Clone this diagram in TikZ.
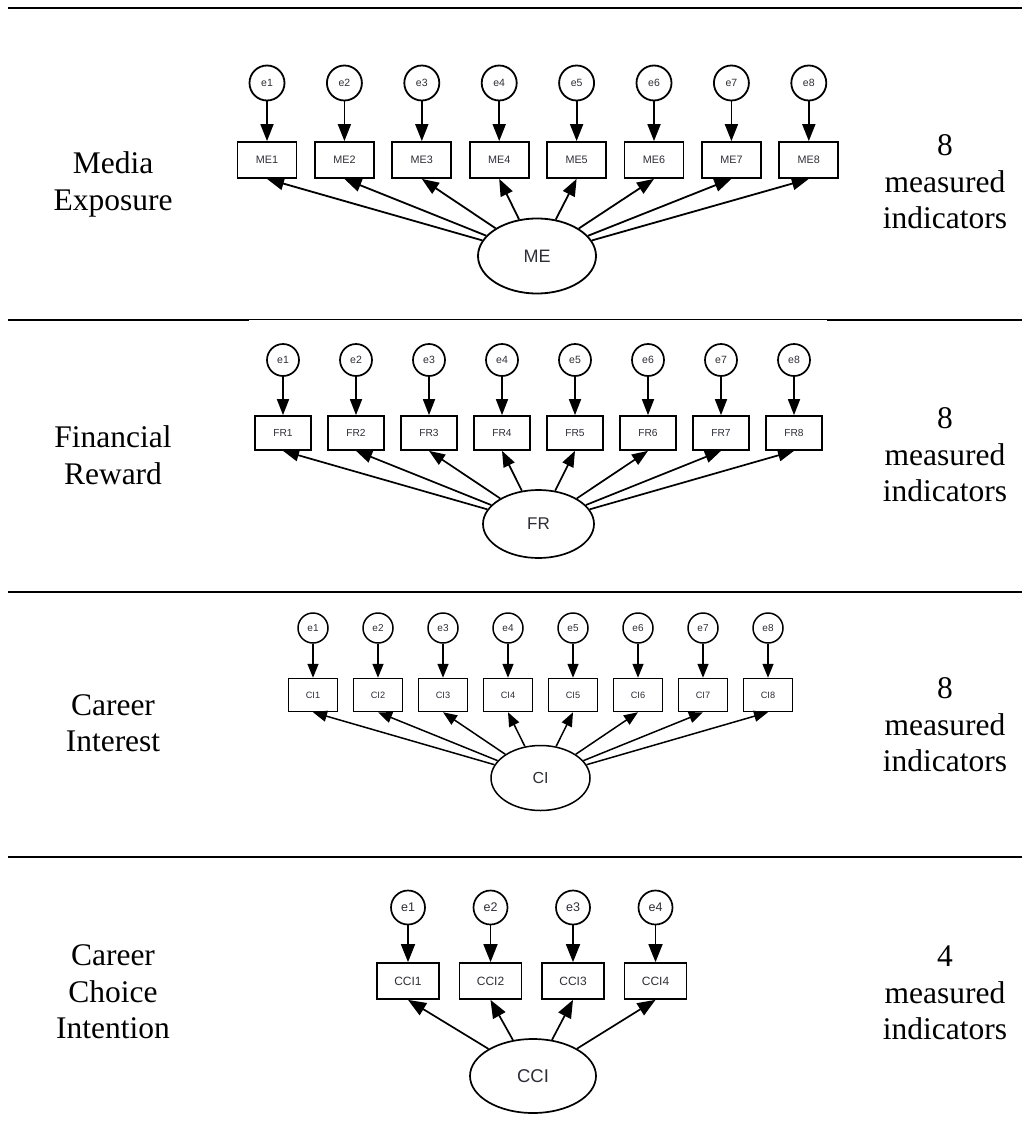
\documentclass[tikz,border=0pt]{standalone}
\usepackage{fontspec}
\setmainfont{Liberation Serif}
\setsansfont{Liberation Sans}
\usetikzlibrary{shapes.geometric,arrows.meta}

\definecolor{labelgray}{RGB}{45,45,55}

\tikzset{
  rule/.style={line width=2.2pt},
  errnode/.style={circle, draw, inner sep=0pt, text=labelgray},
  obsnode/.style={rectangle, draw, inner sep=0pt, text=labelgray},
  latnode/.style={ellipse, draw, inner sep=0pt, text=labelgray},
  side/.style={align=center, font=\rmfamily\fontsize{31.5}{36.5}\selectfont},
  fs/.style={font=\sffamily\fontsize{#1}{#1}\selectfont},
}

\begin{document}
\begin{tikzpicture}[x=1pt,y=-1pt]
\useasboundingbox (0,0) rectangle (1022,1124);

% section rules
\draw[rule] (8,8) -- (1022,8);
\draw[rule] (8,320) -- (249,320);
\draw[line width=1.4pt] (249,319.5) -- (827,319.5);
\draw[rule] (827,320) -- (1022,320);
\draw[rule] (8,592) -- (1022,592);
\draw[rule] (8,857) -- (1022,857);

% ---------------- Media Exposure ----------------
\node[side] (lab-ME) at (113,184.5) {Media\\Exposure};
\node[side] (cnt-ME) at (945,182) {8\\measured\\indicators};
\begin{scope}[line width=1.8pt, arr/.style={-{Triangle[length=17pt,width=13pt]}}]
\node[latnode, minimum width=118pt, minimum height=75pt, fs=18] (ME) at (537,256) {ME};
\foreach \i in {1,...,8} {
  \pgfmathsetmacro\xx{267+77.4*(\i-1)}
  \node[errnode, minimum size=35pt, fs=10.5] (ME-e\i) at (\xx,83) {e\i};
  \node[obsnode, minimum width=59pt, minimum height=36pt, fs=10.8] (ME\i) at (\xx,160) {ME\i};
  \draw[arr] (ME-e\i) -- (ME\i);
  \draw[arr] (ME) -- (ME\i.south);
}
\end{scope}

% ---------------- Financial Reward ----------------
\node[side] (lab-FR) at (113,455) {Financial\\Reward};
\node[side] (cnt-FR) at (945,455) {8\\measured\\indicators};
\begin{scope}[line width=1.7pt, arr/.style={-{Triangle[length=16pt,width=12pt]}}]
\node[latnode, minimum width=111pt, minimum height=68pt, fs=17] (FR) at (538.5,524) {FR};
\foreach \i in {1,...,8} {
  \pgfmathsetmacro\xx{283+73*(\i-1)}
  \node[errnode, minimum size=32pt, fs=10.5] (FR-e\i) at (\xx,360) {e\i};
  \node[obsnode, minimum width=56pt, minimum height=34pt, fs=10.2] (FR\i) at (\xx,433) {FR\i};
  \draw[arr] (FR-e\i) -- (FR\i);
  \draw[arr] (FR) -- (FR\i.south);
}
\end{scope}

% ---------------- Career Interest ----------------
\node[side] (lab-CI) at (113,723) {Career\\Interest};
\node[side] (cnt-CI) at (945,725) {8\\measured\\indicators};
\begin{scope}[line width=1.5pt, arr/.style={-{Triangle[length=14pt,width=11pt]}}]
\node[latnode, minimum width=99pt, minimum height=65pt, fs=16] (CI) at (540.5,778) {CI};
\foreach \i in {1,...,8} {
  \pgfmathsetmacro\xx{313+65*(\i-1)}
  \node[errnode, minimum size=30pt, fs=10] (CI-e\i) at (\xx,628) {e\i};
  \node[obsnode, minimum width=49pt, minimum height=33pt, fs=9.2] (CI\i) at (\xx,695) {CI\i};
  \draw[arr] (CI-e\i) -- (CI\i);
  \draw[arr] (CI) -- (CI\i.south);
}
\end{scope}

% ---------------- Career Choice Intention ----------------
\node[side] (lab-CCI) at (113,992) {Career\\Choice\\Intention};
\node[side] (cnt-CCI) at (945,993) {4\\measured\\indicators};
\begin{scope}[line width=1.7pt, arr/.style={-{Triangle[length=18pt,width=14pt]}}]
\node[latnode, minimum width=126pt, minimum height=74pt, fs=18.5] (CCI) at (533,1076) {CCI};
\foreach \i in {1,...,4} {
  \pgfmathsetmacro\xx{408+82.5*(\i-1)}
  \node[errnode, minimum size=34pt, fs=12.5] (CCI-e\i) at (\xx,907.5) {e\i};
  \node[obsnode, minimum width=62pt, minimum height=36pt, fs=12] (CCI\i) at (\xx,981) {CCI\i};
  \draw[arr] (CCI-e\i) -- (CCI\i);
  \draw[arr] (CCI) -- (CCI\i.south);
}
\end{scope}
\end{tikzpicture}
\end{document}
